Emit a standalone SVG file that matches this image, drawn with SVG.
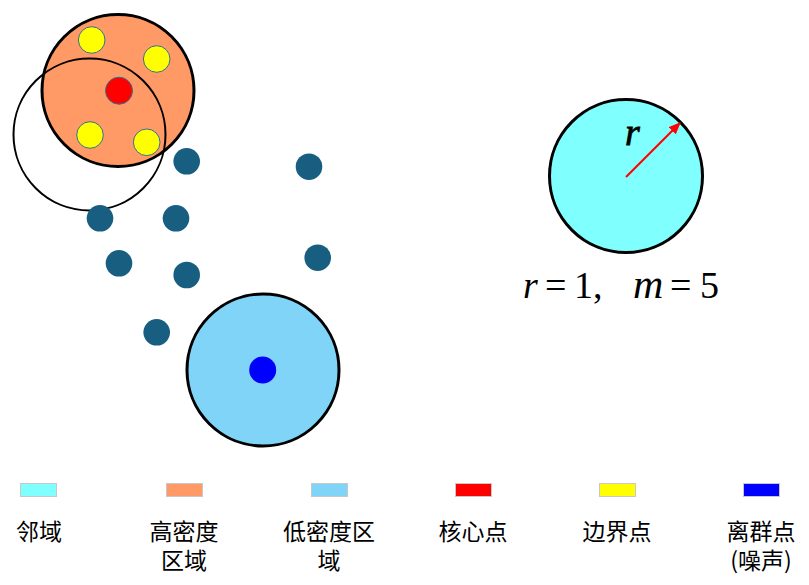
<svg xmlns="http://www.w3.org/2000/svg" width="809" height="585" viewBox="0 0 809 585">
<style>
.pt{fill:#175e80;}
.bd{fill:#ffff00;stroke:#31708f;stroke-width:1;}
.reg{stroke:#000;stroke-width:3;}
.sw{stroke:#c8c8c8;stroke-width:1;}
.lb{font-family:"Noto Sans CJK SC","Noto Sans",sans-serif;font-size:23px;fill:#000;text-anchor:middle;}
.m{font-family:"Liberation Serif","Times New Roman",serif;font-size:38px;fill:#000;}
</style>
<defs>
<marker id="ah" viewBox="0 0 12 10" refX="11" refY="5" markerWidth="12" markerHeight="10" orient="auto" markerUnits="userSpaceOnUse">
<path d="M0,0 L12,5 L0,10 z" fill="#ff0000"/>
</marker>
</defs>
<rect width="809" height="585" fill="#fff"/>
<g id="high-density-region"><circle class="reg" cx="118" cy="90.5" r="76" fill="#ff9966"/></g>
<g id="neighbor-circle"><circle cx="89.5" cy="134.5" r="76" fill="none" stroke="#000" stroke-width="2"/></g>
<g id="border-1"><circle class="bd" cx="91.7" cy="40" r="13.3"/></g>
<g id="border-2"><circle class="bd" cx="156.7" cy="59" r="13.3"/></g>
<g id="border-3"><circle class="bd" cx="90" cy="135" r="13.3"/></g>
<g id="border-4"><circle class="bd" cx="146.7" cy="142.3" r="13.3"/></g>
<g id="core"><circle cx="119" cy="90.7" r="13.5" fill="#ff0000" stroke="#31708f" stroke-width="1"/></g>
<g id="p1"><circle class="pt" cx="186.7" cy="161.3" r="13.3"/></g>
<g id="p2"><circle class="pt" cx="309" cy="166.7" r="13.3"/></g>
<g id="p3"><circle class="pt" cx="100" cy="218.3" r="13.3"/></g>
<g id="p4"><circle class="pt" cx="176" cy="218.3" r="13.3"/></g>
<g id="p5"><circle class="pt" cx="119" cy="263.3" r="13.3"/></g>
<g id="p6"><circle class="pt" cx="186.7" cy="275" r="13.3"/></g>
<g id="p7"><circle class="pt" cx="317.7" cy="257.7" r="13.3"/></g>
<g id="p8"><circle class="pt" cx="156.7" cy="332.3" r="13.3"/></g>
<g id="low-density-region"><circle class="reg" cx="263" cy="370" r="76" fill="#80d4f7"/></g>
<g id="outlier"><circle cx="262.7" cy="370" r="13.5" fill="#0000ff"/></g>
<g id="neighborhood"><circle cx="626" cy="176" r="76.5" fill="#80ffff" stroke="#000" stroke-width="3"/>
<text class="m" x="625" y="145" font-style="italic" font-size="46" stroke="#000" stroke-width="0.8">r</text></g>
<g id="connectors"><line x1="626" y1="177" x2="680" y2="123" stroke="#ff0000" stroke-width="2" marker-end="url(#ah)"/></g>
<g id="formula"><text class="m" y="298"><tspan x="523" font-style="italic">r</tspan><tspan x="545">=</tspan><tspan x="574">1,</tspan><tspan x="633" font-style="italic" font-size="42">m</tspan><tspan x="670">=</tspan><tspan x="700">5</tspan></text></g>
<g id="legend">
<rect class="sw" x="20.5" y="483.5" width="36" height="13" fill="#80ffff"/>
<rect class="sw" x="166.5" y="483.5" width="36" height="13" fill="#ff9966"/>
<rect class="sw" x="311.5" y="483.5" width="36" height="13" fill="#80d4f7"/>
<rect class="sw" x="455.5" y="483.5" width="36" height="13" fill="#ff0000"/>
<rect class="sw" x="599.5" y="483.5" width="36" height="13" fill="#ffff00"/>
<rect class="sw" x="743.5" y="483.5" width="36" height="13" fill="#0000ff"/>
<text class="lb" x="39" y="540">邻域</text>
<text class="lb" x="184" y="540">高密度</text>
<text class="lb" x="184" y="569">区域</text>
<text class="lb" x="329" y="540">低密度区</text>
<text class="lb" x="329" y="569">域</text>
<text class="lb" x="473" y="540">核心点</text>
<text class="lb" x="617" y="540">边界点</text>
<text class="lb" x="761" y="540">离群点</text>
<text class="lb" x="761" y="569">(噪声)</text>
</g>
</svg>
